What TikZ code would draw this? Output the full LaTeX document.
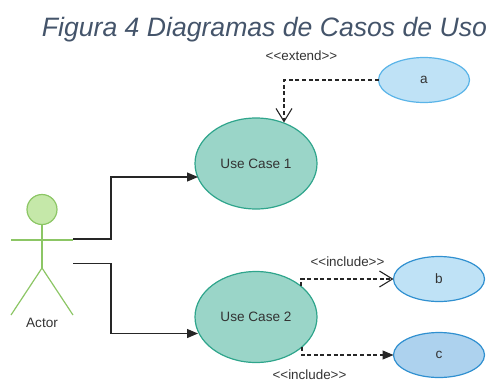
\documentclass[tikz,border=0pt]{standalone}
\usepackage{fontspec}
\setmainfont{Liberation Sans}
\usetikzlibrary{arrows.meta,shapes.geometric}
\definecolor{titlec}{HTML}{44546A}
\definecolor{txt}{HTML}{333333}
\definecolor{ucfill}{HTML}{9AD5C8}
\definecolor{ucline}{HTML}{2FA58C}
\definecolor{actorline}{HTML}{8CC665}
\definecolor{actorfill}{HTML}{C5E8A9}
\definecolor{aline}{HTML}{5AB4E8}
\definecolor{bline}{HTML}{3090D0}
\definecolor{afill}{HTML}{BFE2F6}
\definecolor{cfill}{HTML}{ADD2EE}
\tikzset{
  x=1pt,y=-1pt,
  every node/.style={inner sep=0pt,outer sep=0pt,text=txt,font=\fontsize{13.6}{15}\selectfont},
  usecase/.style={ellipse,draw=ucline,fill=ucfill,line width=1.2pt,minimum width=122pt,minimum height=91pt},
  small/.style={ellipse,line width=1.2pt,minimum width=91pt,minimum height=45pt},
  limb/.style={draw=actorline,line width=1.2pt},
  solidflow/.style={draw=black!85,line width=1.2pt,-{Triangle[length=11pt,width=9pt]}},
  dashflow/.style={draw=black!85,line width=1.1pt,dash pattern=on 4pt off 2.6pt},
  openhead/.style={-{Straight Barb[length=13pt,width=16pt,line width=1.1pt]}},
  fillhead/.style={-{Triangle[length=11pt,width=9pt]}},
  lbl/.style={font=\fontsize{13.4}{15}\selectfont}
}
\begin{document}
\begin{tikzpicture}
\useasboundingbox (0,0) rectangle (489,381);
\node[font=\itshape\fontsize{26.6}{30}\selectfont,text=titlec] (title) at (264.5,29.5) {Figura 4 Diagramas de Casos de Uso};
% actor
\node[circle,draw=actorline,fill=actorfill,line width=1.2pt,minimum size=30pt] (head) at (42,209.5) {};
\coordinate (hip) at (42,268);
\coordinate (handL) at (11,240);
\coordinate (handR) at (73,240);
\coordinate (footL) at (11,315);
\coordinate (footR) at (73,315);
\draw[limb] (head.south) -- (hip);
\draw[limb] (handL) -- (handR);
\draw[limb] (footL) -- (hip) -- (footR);
\node (actor) at (42,322.5) {Actor};
% use cases
\node[usecase] (uc1) at (256,163.5) {Use Case 1};
\node[usecase] (uc2) at (256,317) {Use Case 2};
\node[small,draw=aline,fill=afill] (a) at (424,80) {a};
\node[small,draw=bline,fill=afill] (b) at (439,279) {b};
\node[small,draw=bline,fill=cfill] (c) at (439,355) {c};
% flows
\coordinate (s1) at (73,239);
\coordinate (s2) at (73,263.5);
\coordinate (e1) at (198,177);
\coordinate (e2) at (198,333.5);
\coordinate (ext) at (284,122.5);
\coordinate (i1) at (301,286);
\coordinate (i2) at (302,347);
\draw[solidflow] (s1) -- (111,239) |- (e1);
\draw[solidflow] (s2) -- (111,263.5) |- (e2);
\draw[dashflow,openhead] (a.west) -- (ext |- a.west) -- (ext);
\draw[dashflow,openhead] (i1) -- (i1 |- b.west) -- (b.west);
\draw[dashflow,fillhead] (i2) -- (i2 |- c.west) -- (c.west);
\node[lbl] (l1) at (301.5,55.5) {<{}<extend>{}>};
\node[lbl] (l2) at (347.5,261.5) {<{}<include>{}>};
\node[lbl] (l3) at (309.5,374.5) {<{}<include>{}>};
\end{tikzpicture}
\end{document}
